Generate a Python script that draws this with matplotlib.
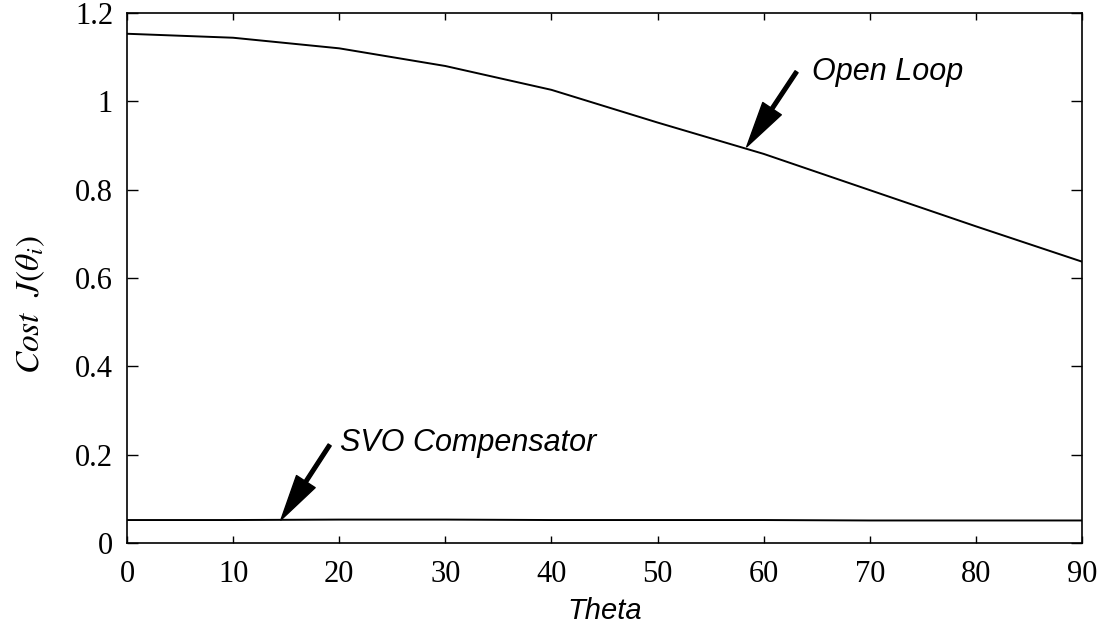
import matplotlib
matplotlib.use("Agg")
import matplotlib.pyplot as plt

theta = [0, 10, 20, 30, 40, 50, 60, 70, 80, 90]
open_loop = [1.153, 1.144, 1.120, 1.080, 1.026, 0.952, 0.881, 0.799, 0.717, 0.637]
svo = [0.052, 0.052, 0.053, 0.053, 0.052, 0.052, 0.052, 0.051, 0.051, 0.051]
xticks = [0, 10, 20, 30, 40, 50, 60, 70, 80, 90]
yticks = [0, 0.2, 0.4, 0.6, 0.8, 1.0, 1.2]
ytick_labels = ["0", "0.2", "0.4", "0.6", "0.8", "1", "1.2"]

plt.rcParams['mathtext.fontset'] = 'stix'

fig = plt.figure(figsize=(11.06, 6.23), dpi=100)
ax = fig.add_axes([127/1106, 1-543/623, (1082-127)/1106, (543-13)/623])

ax.plot(theta, open_loop, color='black', lw=1.4)
ax.plot(theta, svo, color='black', lw=1.4)

ax.set_xlim(0, 90)
ax.set_ylim(0, 1.2)
ax.set_xticks(xticks)
ax.set_xticklabels([str(t) for t in xticks], family='Liberation Serif', fontsize=22)
ax.set_yticks(yticks)
ax.set_yticklabels(ytick_labels, family='Liberation Serif', fontsize=22)

ax.tick_params(axis='x', direction='in', length=5, width=1, top=True, pad=12)
ax.tick_params(axis='y', direction='in', length=8, width=1, right=True, pad=10)
for s in ax.spines.values():
    s.set_linewidth(1.2)

ax.set_xlabel('Theta', family='Liberation Sans', style='italic', fontsize=21, labelpad=6)
ax.set_ylabel(r'$\mathit{Cost}\ \ J(\theta_i)$', fontsize=24)
ax.yaxis.set_label_coords(-0.084, 0.45)

arrow = dict(facecolor='black', edgecolor='black', width=2.6, headwidth=16, headlength=33, shrink=0)
ax.annotate('', xy=(58.4, 0.897), xytext=(63.1, 1.067), arrowprops=arrow)
ax.text(64.6, 1.066, 'Open Loop', family='Liberation Sans', style='italic', fontsize=22,
        ha='left', va='center')
ax.annotate('', xy=(14.5, 0.052), xytext=(19.1, 0.222), arrowprops=arrow)
ax.text(20.1, 0.226, 'SVO Compensator', family='Liberation Sans', style='italic', fontsize=22,
        ha='left', va='center')

fig.savefig('out.png', dpi=100)
